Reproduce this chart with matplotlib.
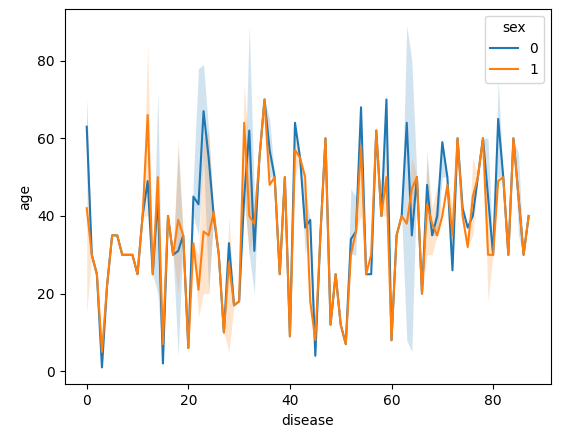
import numpy as np
import matplotlib
matplotlib.use("Agg")
import matplotlib.pyplot as plt

disease = list(range(88))
age_sex0 = [63, 30, 25, 1, 22, 35, 35, 30, 30, 30, 25, 40, 49, 25, 45, 2, 40, 30, 31, 35,
            6, 45, 43, 67, 55, 40, 30, 10, 33, 17, 18, 45, 62, 31, 55, 70, 57, 50, 25, 50,
            9, 64, 55, 37, 39, 4, 35, 60, 12, 25, 12, 7, 34, 36, 68, 25, 25, 62, 40, 70,
            8, 35, 40, 64, 35, 50, 20, 48, 35, 40, 59, 50, 26, 60, 42, 37, 40, 50, 60, 45,
            30, 65, 50, 30, 60, 45, 30, 40]
age_sex1 = [42, 30, 25, 5, 22, 35, 35, 30, 30, 30, 25, 40, 66, 25, 50, 7, 40, 30, 39, 35,
            6, 33, 21, 36, 35, 41, 30, 10, 28, 17, 18, 64, 40, 38, 55, 70, 48, 50, 25, 50,
            9, 57, 55, 50, 18, 8, 35, 60, 12, 25, 12, 7, 30, 36, 58, 25, 30, 62, 40, 50,
            8, 35, 40, 38, 47, 50, 20, 43, 38, 35, 40, 48, 35, 60, 40, 32, 45, 50, 60, 30,
            30, 49, 50, 30, 60, 45, 30, 40]

# confidence band (disease, low, high) where it differs from the mean
band_sex0 = [(0, 56, 70), (14, 20, 72), (18, 4, 57), (21, 40, 50), (22, 35, 78), (23, 55, 79),
             (24, 20, 62), (32, 30, 89), (33, 20, 45), (36, 50, 65), (43, 30, 47), (45, 3, 10),
             (52, 30, 47), (53, 30, 45), (59, 60, 72), (63, 8, 89), (64, 5, 80), (67, 40, 57),
             (69, 35, 45), (70, 50, 60), (79, 40, 60), (81, 50, 75), (85, 35, 56)]
band_sex1 = [(0, 15, 70), (12, 40, 84), (18, 20, 60), (22, 14, 30), (23, 20, 60), (24, 20, 62),
             (28, 5, 40), (31, 45, 74), (32, 30, 55), (41, 50, 62), (54, 40, 65), (59, 40, 60),
             (64, 40, 55), (67, 30, 55), (68, 30, 42), (69, 35, 48), (72, 25, 43), (76, 35, 55),
             (79, 18, 40)]


def make_band(mean, band):
    lo = np.array(mean, dtype=float)
    hi = lo.copy()
    for d, l, h in band:
        lo[d], hi[d] = l, h
    return lo, hi


fig, ax = plt.subplots(figsize=(5.62, 4.32), dpi=100)
colors = ["#1f77b4", "#ff7f0e"]
for name, mean, band, c in [("0", age_sex0, band_sex0, colors[0]), ("1", age_sex1, band_sex1, colors[1])]:
    lo, hi = make_band(mean, band)
    ax.fill_between(disease, lo, hi, color=c, alpha=0.2, linewidth=0)
    ax.plot(disease, mean, color=c, label=name, linewidth=1.5)

ax.set_xlabel("disease")
ax.set_ylabel("age")
ax.set_yticks([0, 20, 40, 60, 80])
ax.set_xticks([0, 20, 40, 60, 80])
ax.legend(title="sex", loc="upper right")
plt.subplots_adjust(left=0.115, right=0.98, bottom=0.11, top=0.98)
fig.savefig("out.png")
